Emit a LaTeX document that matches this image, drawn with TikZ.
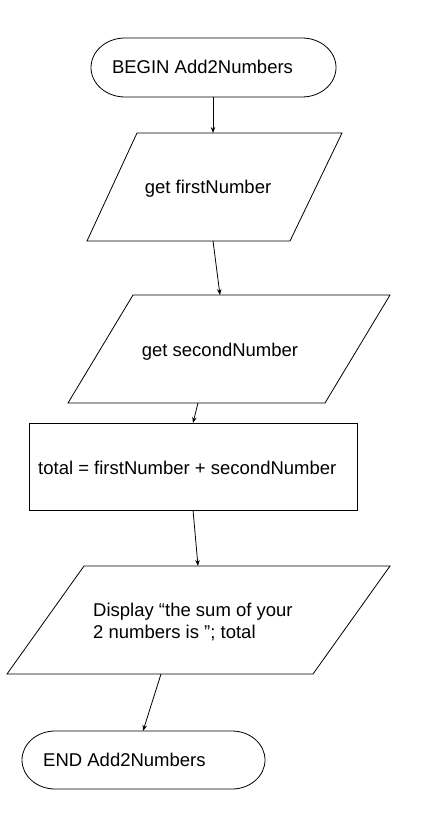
\documentclass[tikz,border=0pt]{standalone}
\usepackage{fontspec}
\setmainfont{Liberation Sans}
\usetikzlibrary{arrows.meta}
\begin{document}
\begin{tikzpicture}[x=1pt,y=-1pt,
  shapeline/.style={draw=black,line width=0.8pt,fill=white},
  lbl/.style={inner sep=0pt,font=\fontsize{18.5}{22}\selectfont},
  flow/.style={draw=black,line width=0.8pt,-{Stealth[length=6pt,width=4.5pt]}}]
\useasboundingbox (0,0) rectangle (432,818);
% BEGIN terminal
\draw[shapeline] (125,38) -- (302,38) arc[start angle=-90,end angle=90,x radius=34,y radius=29.5]
  -- (125,97) arc[start angle=90,end angle=270,x radius=34,y radius=29.5] -- cycle;
\node[lbl] (begin) at (202.5,67) {BEGIN Add2Numbers};
\coordinate (beginS) at (213,97);
% input 1
\draw[shapeline] (137,133) -- (342,133) -- (290,241) -- (87,241) -- cycle;
\node[lbl] (in1) at (208,189) {get firstNumber};
\coordinate (in1N) at (213,133);
\coordinate (in1S) at (213,241);
% input 2
\draw[shapeline] (133,295) -- (390,295) -- (325,403) -- (68,403) -- cycle;
\node[lbl] (in2) at (220,352) {get secondNumber};
\coordinate (in2N) at (220,295);
\coordinate (in2S) at (198,403);
% process
\draw[shapeline] (29,423) rectangle (357,510);
\node[lbl,anchor=west] (proc) at (38,468) {total = firstNumber + secondNumber};
\coordinate (procN) at (193,423);
\coordinate (procS) at (193,510);
% output
\draw[shapeline] (84,566) -- (390,566) -- (313,674) -- (7,674) -- cycle;
\node[lbl,anchor=west,align=left] (out) at (93,622) {Display “the sum of your\\2 numbers is ”; total};
\coordinate (outN) at (198,566);
\coordinate (outS) at (161,674);
% END terminal
\draw[shapeline] (55,731) -- (232,731) arc[start angle=-90,end angle=90,x radius=33,y radius=29]
  -- (55,789) arc[start angle=90,end angle=270,x radius=33,y radius=29] -- cycle;
\node[lbl,anchor=west] (end) at (43,760) {END Add2Numbers};
\coordinate (endN) at (143,731);
% connectors
\draw[flow] (beginS) -- (in1N);
\draw[flow] (in1S) -- (in2N);
\draw[flow] (in2S) -- (procN);
\draw[flow] (procS) -- (outN);
\draw[flow] (outS) -- (endN);
\end{tikzpicture}
\end{document}
